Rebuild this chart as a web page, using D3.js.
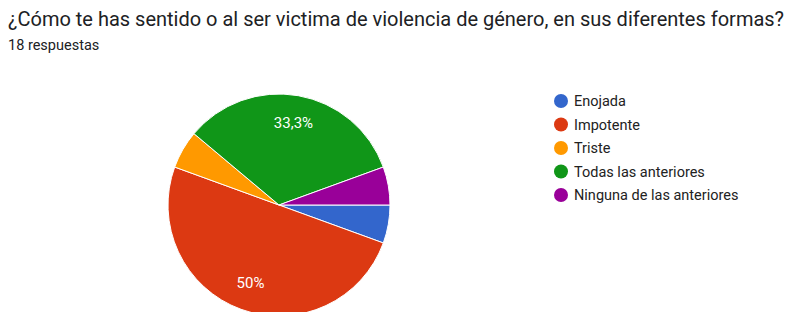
<!DOCTYPE html>
<html lang="es">
<head>
<meta charset="UTF-8">
<title>Pie</title>
<style>
body { margin: 0; background: #fff; font-family: Roboto, Arial, sans-serif; }
svg { display: block; }
</style>
</head>
<body>
<svg width="786" height="312"></svg>
<script src="https://d3js.org/d3.v7.min.js"></script>
<script>
// datos
const categories = ["Enojada", "Impotente", "Triste", "Todas las anteriores", "Ninguna de las anteriores"];
const counts = [1, 9, 1, 6, 1];
const colors = ["#3366cc", "#dc3912", "#ff9900", "#109618", "#990099"];
const title = "¿Cómo te has sentido o al ser victima de violencia de género, en sus diferentes formas?";
const subtitle = "18 respuestas";

const svg = d3.select("svg");

svg.append("text")
    .attr("x", 8).attr("y", 26)
    .attr("font-size", 20)
    .attr("fill", "#202124")
    .text(title);

svg.append("text")
    .attr("x", 8).attr("y", 50)
    .attr("font-size", 14.5)
    .attr("fill", "#202124")
    .text(subtitle);

const cx = 279, cy = 205, r = 111;
const total = d3.sum(counts);

const pie = d3.pie().sort(null)
    .startAngle(Math.PI / 2)
    .endAngle(Math.PI / 2 + 2 * Math.PI);
const arc = d3.arc().innerRadius(0).outerRadius(r);
const labelArc = d3.arc().innerRadius(r * 0.75).outerRadius(r * 0.75);

const g = svg.append("g").attr("transform", `translate(${cx},${cy})`);
const arcs = pie(counts);

g.selectAll("path")
    .data(arcs)
    .enter().append("path")
    .attr("d", arc)
    .attr("fill", (d, i) => colors[i])
    .attr("stroke", "#fff")
    .attr("stroke-width", 1);

// etiquetas de porcentaje solo para las porciones grandes
g.selectAll("text.pct")
    .data(arcs.filter(d => d.value / total > 0.1))
    .enter().append("text")
    .attr("class", "pct")
    .attr("transform", d => `translate(${labelArc.centroid(d)})`)
    .attr("text-anchor", "middle")
    .attr("dy", "0.35em")
    .attr("font-size", 15)
    .attr("fill", "#fff")
    .text(d => {
        const p = Math.round(d.value / total * 1000) / 10;
        return String(p).replace(".", ",") + "%";
    });

// leyenda
const legend = svg.append("g").attr("transform", "translate(561,101)");
const item = legend.selectAll("g")
    .data(categories)
    .enter().append("g")
    .attr("transform", (d, i) => `translate(0,${i * 23.5})`);

item.append("circle")
    .attr("r", 7)
    .attr("fill", (d, i) => colors[i]);

item.append("text")
    .attr("x", 13)
    .attr("dy", "0.35em")
    .attr("font-size", 14.5)
    .attr("fill", "#222")
    .text(d => d);
</script>
</body>
</html>
